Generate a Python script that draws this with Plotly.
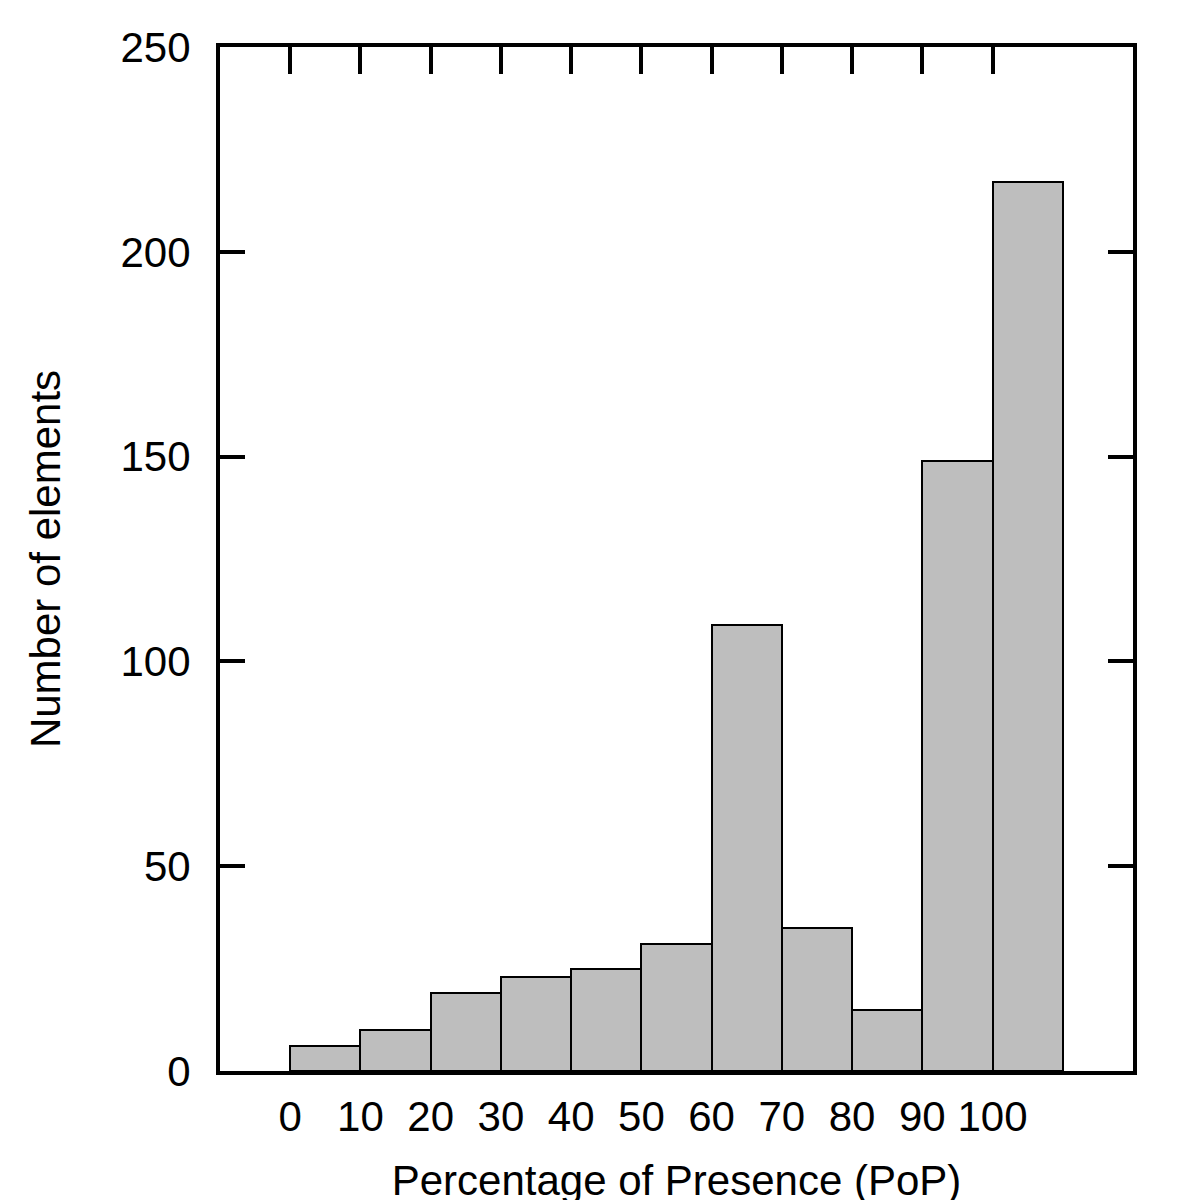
import plotly.graph_objects as go

bin_starts = [0, 10, 20, 30, 40, 50, 60, 70, 80, 90, 100]
counts = [6, 10, 19, 23, 25, 31, 109, 35, 15, 149, 217]
x_ticks = [0, 10, 20, 30, 40, 50, 60, 70, 80, 90, 100]
y_ticks = [0, 50, 100, 150, 200, 250]
bin_width = 10

centers = [b + bin_width / 2 for b in bin_starts]

fig = go.Figure()
fig.add_trace(go.Bar(
    x=centers, y=counts, width=bin_width,
    marker=dict(color="#bebebe", line=dict(color="black", width=2)),
    showlegend=False, hoverinfo="skip",
))
# invisible trace for top axis
fig.add_trace(go.Scatter(x=[-10], y=[0], xaxis="x2", mode="markers",
                         marker=dict(opacity=0), showlegend=False, hoverinfo="skip"))

font = dict(family="Liberation Sans, Arial, sans-serif", size=42, color="black")

fig.update_layout(
    width=1200, height=1200,
    margin=dict(l=212, r=75, t=39, b=137),
    plot_bgcolor="white", paper_bgcolor="white",
    font=font,
    bargap=0,
    xaxis=dict(
        range=[-10, 120], tickvals=x_ticks, ticktext=[str(v) for v in x_ticks],
        ticks="", showline=True, linecolor="black", linewidth=4, mirror=True,
        showgrid=False, zeroline=False, ticklabelstandoff=6,
        title=dict(text="Percentage of Presence (PoP)", font=font, standoff=27),
    ),
    xaxis2=dict(
        range=[-10, 120], tickvals=x_ticks, overlaying="x", side="top",
        ticks="inside", ticklen=27, tickwidth=4, tickcolor="black",
        showticklabels=False, showgrid=False, zeroline=False, showline=False,
    ),
    yaxis=dict(
        range=[0, 250], tickvals=y_ticks, ticks="inside", ticklen=25, tickwidth=4,
        tickcolor="black", showline=True, linecolor="black", linewidth=4,
        mirror="ticks", showgrid=False, zeroline=False, ticklabelstandoff=17,
        title=dict(text="Number of elements", font=font, standoff=48),
    ),
)

fig.write_html("out.html")
